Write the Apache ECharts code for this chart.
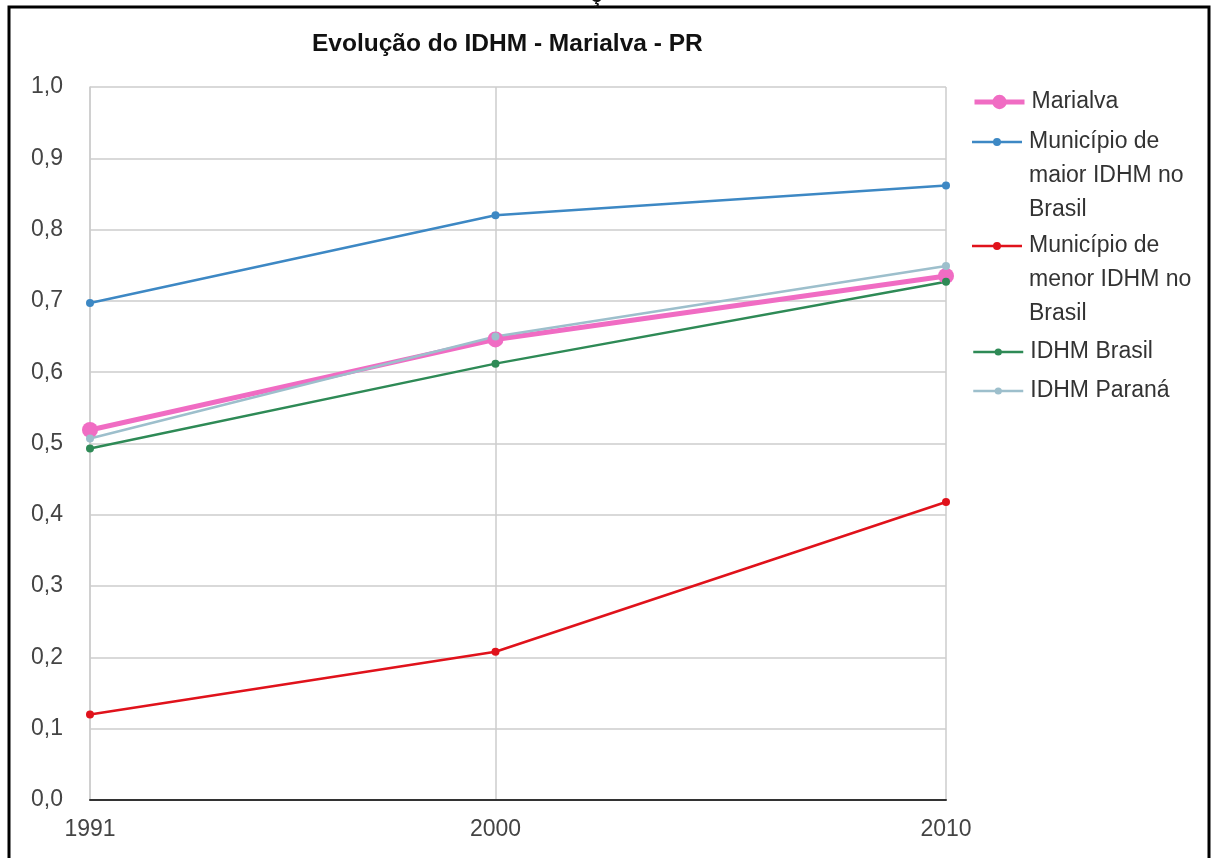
<!DOCTYPE html>
<html>
<head>
<meta charset="utf-8">
<script src="https://cdn.jsdelivr.net/npm/echarts@6/dist/echarts.min.js"></script>
<style>
html,body{margin:0;padding:0;background:#fff;}
#chart{width:1219px;height:858px;}
</style>
</head>
<body>
<div id="chart"></div>
<script>
// ---- data ----
const years = [1991, 2000, 2010];
const marialva = [0.519, 0.646, 0.735];
const maiorIDHM = [0.697, 0.820, 0.862];
const menorIDHM = [0.120, 0.208, 0.418];
const idhmBrasil = [0.493, 0.612, 0.727];
const idhmParana = [0.507, 0.650, 0.749];
const seriesNames = ['Marialva', 'Município de maior IDHM no Brasil', 'Município de menor IDHM no Brasil', 'IDHM Brasil', 'IDHM Paraná'];
const legendLabels = ['Marialva', 'Município de\nmaior IDHM no\nBrasil', 'Município de\nmenor IDHM no\nBrasil', 'IDHM Brasil', 'IDHM Paraná'];
const xTickYears = [1991, 2000, 2010];
const titleText = 'Evolução do IDHM - Marialva - PR';

// ---- styling / layout ----
const FONT = '"Liberation Sans", Arial, sans-serif';
const colors = ['#f06cc3', '#3d88c4', '#e0121b', '#2e8a56', '#9dbfcc'];
const lineWidths = [5, 2.5, 2.5, 2.5, 2.5];
const symbolSizes = [16, 8, 8, 8, 8];
const legendTops = [85, 125, 229, 335, 374];
const LINE_H = 34;

const allValues = [marialva, maiorIDHM, menorIDHM, idhmBrasil, idhmParana];

const series = allValues.map((vals, i) => ({
  name: seriesNames[i],
  type: 'line',
  data: years.map((y, k) => [y, vals[k]]),
  symbol: 'circle',
  symbolSize: symbolSizes[i],
  lineStyle: { width: lineWidths[i], color: colors[i] },
  itemStyle: { color: colors[i] },
  color: colors[i],
  silent: true,
  animation: false
}));

// icon for a multi-line legend entry: line + dot aligned with the first text line
function topAlignedIcon(w, h, lw, r) {
  const c = LINE_H / 2;
  const y0 = c - lw / 2, y1 = c + lw / 2;
  const cx = w / 2;
  return 'path://' +
    'M0,0L0.01,0L0,0.01Z' +
    'M0,' + y0 + 'L' + (cx - r + 1) + ',' + y0 + 'L' + (cx - r + 1) + ',' + y1 + 'L0,' + y1 + 'Z' +
    'M' + (cx + r - 1) + ',' + y0 + 'L' + w + ',' + y0 + 'L' + w + ',' + y1 + 'L' + (cx + r - 1) + ',' + y1 + 'Z' +
    'M' + (cx - r) + ',' + c + 'A' + r + ',' + r + ' 0 1,1 ' + (cx + r) + ',' + c + 'A' + r + ',' + r + ' 0 1,1 ' + (cx - r) + ',' + c + 'Z' +
    'M' + w + ',' + h + 'L' + (w - 0.01) + ',' + h + 'L' + w + ',' + (h - 0.01) + 'Z';
}

const legends = seriesNames.map((n, i) => {
  const nLines = legendLabels[i].split('\n').length;
  const lg = {
    data: [{ name: n }],
    orient: 'vertical',
    left: 972,
    top: legendTops[i],
    padding: 0,
    itemWidth: 50,
    itemHeight: i === 0 ? 18 : 9,
    itemGap: 0,
    selectedMode: false,
    lineStyle: { width: lineWidths[i] },
    formatter: () => legendLabels[i],
    textStyle: { fontSize: 23, color: '#333', fontFamily: FONT, lineHeight: LINE_H, padding: [0, 0, 0, 2] }
  };
  if (nLines > 1) {
    const h = LINE_H * nLines;
    lg.itemHeight = h;
    lg.icon = topAlignedIcon(50, h, lineWidths[i], 4);
    lg.itemStyle = { color: colors[i], borderWidth: 0 };
  }
  return lg;
});

const fmtY = v => v.toFixed(1).replace('.', ',');

const option = {
  backgroundColor: '#fff',
  animation: false,
  title: {
    text: titleText,
    left: 312,
    top: 32,
    padding: 0,
    textStyle: { fontSize: 24.5, fontWeight: 'bold', color: '#111', fontFamily: FONT }
  },
  legend: legends,
  grid: { left: 90, right: 273, top: 87, bottom: 58, containLabel: false },
  xAxis: {
    type: 'value',
    min: 1991,
    max: 2010,
    axisLine: { show: true, onZero: false, lineStyle: { color: '#333', width: 2 } },
    axisTick: { show: false, customValues: xTickYears },
    axisLabel: { customValues: xTickYears, formatter: v => String(v), color: '#444', fontSize: 23, fontFamily: FONT, margin: 18 },
    splitLine: { show: true, lineStyle: { color: '#ccc', width: 1.5 } }
  },
  yAxis: {
    type: 'value',
    min: 0,
    max: 1,
    interval: 0.1,
    axisLine: { show: true, lineStyle: { color: '#ccc', width: 1.5 } },
    axisTick: { show: false },
    axisLabel: { formatter: fmtY, color: '#444', fontSize: 23, fontFamily: FONT, margin: 27 },
    splitLine: { show: true, lineStyle: { color: '#ccc', width: 1.5 } }
  },
  graphic: [
    { type: 'rect', silent: true, z: 100,
      shape: { x: 9, y: 7, width: 1200, height: 900 },
      style: { fill: 'none', stroke: '#000', lineWidth: 3 } },
    { type: 'text', silent: true, z: 100, left: 590, top: -16,
      style: { text: 'ç', fill: '#111', font: 'bold 23px ' + FONT } }
  ],
  series: series
};

const chart = echarts.init(document.getElementById('chart'), null, { renderer: 'canvas' });
chart.setOption(option);
</script>
</body>
</html>
